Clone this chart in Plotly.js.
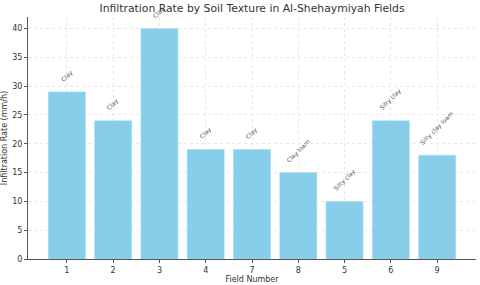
<!DOCTYPE html>
<html>
<head>
<meta charset="utf-8">
<script src="https://cdn.plot.ly/plotly-3.0.1.min.js"></script>
<style>html,body{margin:0;padding:0;background:#fff;}#chart{width:480px;height:285px;}</style>
</head>
<body>
<div id="chart"></div>
<script>
const fields = ["1", "2", "3", "4", "7", "8", "5", "6", "9"];
const rates = [29, 24, 40, 19, 19, 15, 10, 24, 18];
const textures = ["Clay", "Clay", "Clay", "Clay", "Clay", "Clay loam", "Silty clay", "Silty clay", "Silty clay loam"];
const yTicks = [0, 5, 10, 15, 20, 25, 30, 35, 40];

const trace = {
  type: "bar",
  x: fields,
  y: rates,
  width: 0.8,
  marker: {color: "#87CEEB", line: {color: "#a8dcf0", width: 0.6}},
  hoverinfo: "skip"
};

const annotations = fields.map((f, i) => ({
  x: i, y: rates[i] + 1, xref: "x", yref: "y",
  text: textures[i], showarrow: false, textangle: -45,
  xanchor: "center", yanchor: "bottom",
  font: {family: "DejaVu Sans", size: 6, color: "#555"}
}));

const layout = {
  width: 480, height: 285,
  margin: {l: 28, r: 4, t: 17, b: 26},
  paper_bgcolor: "#fff", plot_bgcolor: "#fff",
  font: {family: "DejaVu Sans", color: "#333"},
  title: {text: "Infiltration Rate by Soil Texture in Al-Shehaymiyah Fields",
          font: {family: "DejaVu Sans", size: 10.8, color: "#333"},
          x: 0.525, xanchor: "center", y: 0.97, yanchor: "middle"},
  xaxis: {
    type: "category", range: [-0.84, 8.84],
    showline: true, linecolor: "#555", linewidth: 1,
    ticks: "outside", ticklen: 3, tickcolor: "#555",
    showgrid: true, gridcolor: "#e8e8e8", griddash: "dot", gridwidth: 1,
    tickfont: {size: 8, color: "#333"},
    title: {text: "Field Number", font: {size: 8, color: "#333"}, standoff: 1},
    zeroline: false
  },
  yaxis: {
    range: [0, 42], tickvals: yTicks, ticktext: yTicks.map(String),
    showline: true, linecolor: "#555", linewidth: 1,
    ticks: "outside", ticklen: 3, tickcolor: "#555",
    showgrid: true, gridcolor: "#e8e8e8", griddash: "dot", gridwidth: 1,
    tickfont: {size: 8, color: "#333"},
    title: {text: "Infiltration Rate (mm/h)", font: {size: 8, color: "#333"}, standoff: 3},
    zeroline: false
  },
  annotations: annotations,
  showlegend: false,
  bargap: 0.2
};

Plotly.newPlot("chart", [trace], layout, {staticPlot: true, displayModeBar: false});
</script>
</body>
</html>
